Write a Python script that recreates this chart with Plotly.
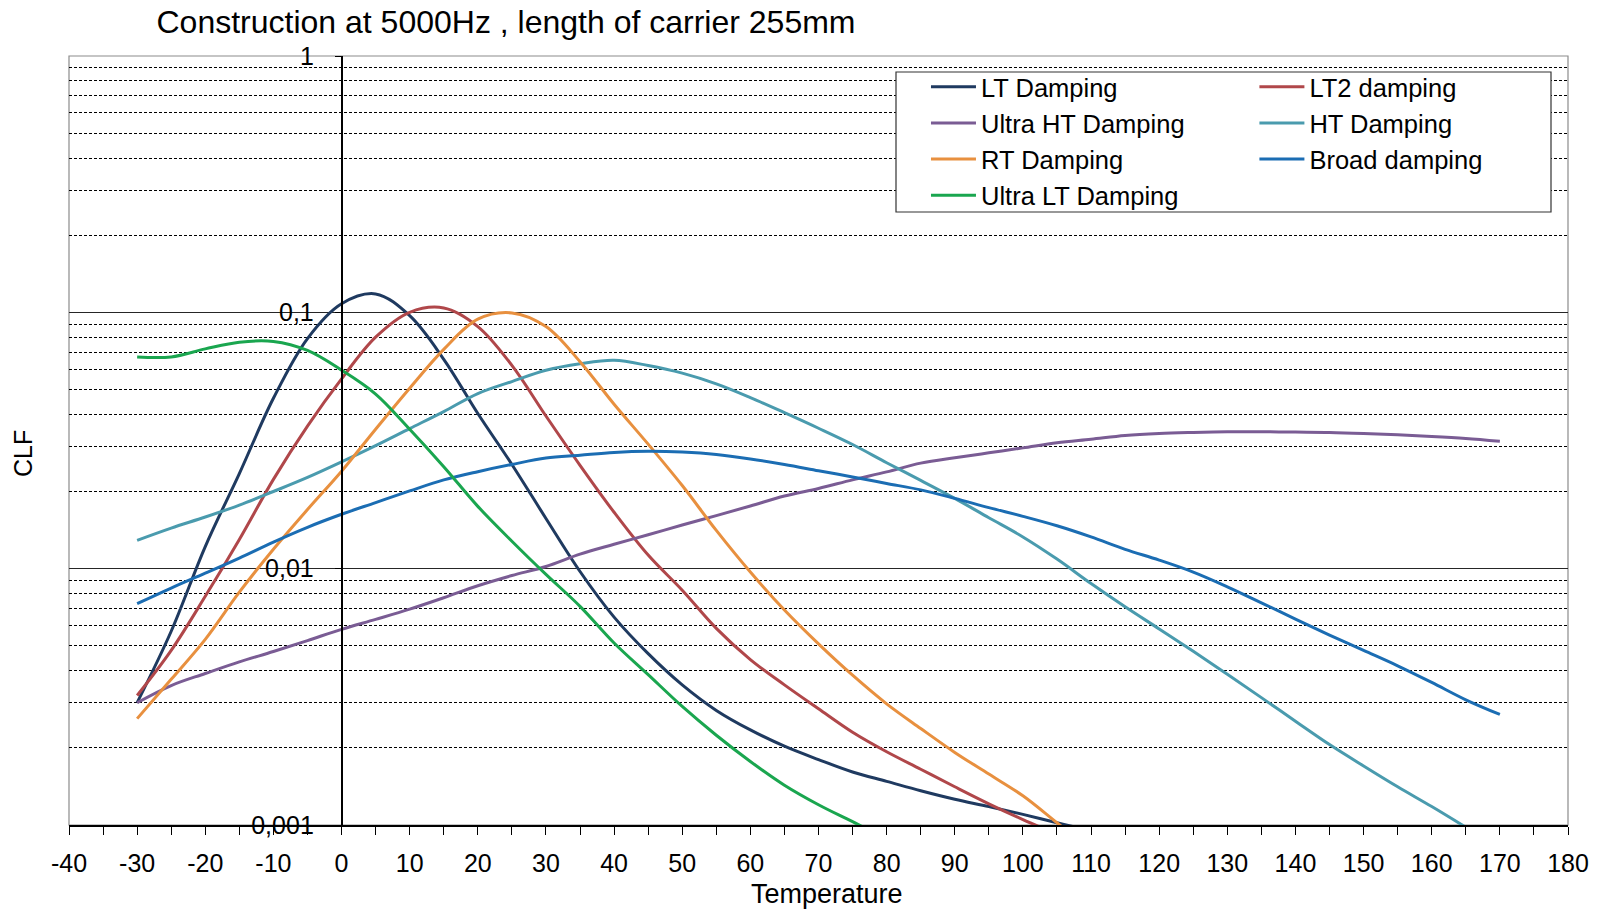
import plotly.graph_objects as go

# ---------------- data ----------------
temp_a = [-30, -25, -20, -15, -10, -5, 0, 5, 10, 15, 20, 25, 30, 35, 40, 45, 50, 55, 60,
          65, 70, 75, 80, 85, 90, 95, 100, 105, 110]
lt_damping = [0.0030, 0.0057, 0.0122, 0.0235, 0.0462, 0.079, 0.108, 0.118, 0.097, 0.0656,
              0.0403, 0.0255, 0.0157, 0.00975, 0.00647, 0.00466, 0.00352, 0.0028, 0.00235,
              0.00203, 0.0018, 0.00161, 0.00148, 0.00136, 0.00126, 0.00118, 0.0011, 0.00102,
              0.00095]

temp_b = [-30, -25, -20, -15, -10, -5, 0, 5, 10, 15, 20, 25, 30, 35, 40, 45, 50, 55, 60,
          65, 70, 75, 80, 85, 90, 95, 100, 105]
lt2_damping = [0.0032, 0.0048, 0.0078, 0.013, 0.0223, 0.036, 0.055, 0.080, 0.100, 0.104,
               0.088, 0.0621, 0.0394, 0.0253, 0.0166, 0.0113, 0.00824, 0.00585, 0.00442,
               0.00352, 0.00284, 0.0023, 0.00193, 0.00165, 0.00141, 0.00121, 0.00105, 0.00092]

temp_c = [-30, -25, -20, -15, -10, -5, 0, 5, 10, 15, 20, 25, 30, 35, 40, 45, 50, 55, 60,
          65, 70, 75, 80, 85, 90, 95, 100, 105, 110, 115, 120, 125, 130, 135, 140, 145, 150,
          155, 160, 165, 170]
ultra_ht_damping = [0.0030, 0.0035, 0.0039, 0.00433, 0.00475, 0.00524, 0.0058, 0.00634,
                    0.00695, 0.0077, 0.00858, 0.0094, 0.0102, 0.0114, 0.01245, 0.01356,
                    0.0148, 0.0161, 0.01756, 0.0192, 0.02055, 0.0222, 0.02385, 0.0258,
                    0.0271, 0.0283, 0.0296, 0.031, 0.032, 0.0331, 0.0337, 0.034, 0.0342,
                    0.0342, 0.0341, 0.034, 0.0337, 0.0333, 0.0328, 0.0322, 0.0314]

temp_d = [-30, -25, -20, -15, -10, -5, 0, 5, 10, 15, 20, 25, 30, 35, 40, 45, 50, 55, 60,
          65, 70, 75, 80, 85, 90, 95, 100, 105, 110, 115, 120, 125, 130, 135, 140, 145, 150,
          155, 160, 165]
ht_damping = [0.0129, 0.0144, 0.0159, 0.0177, 0.0200, 0.0227, 0.0261, 0.0302, 0.0352, 0.041,
              0.0482, 0.0537, 0.0594, 0.063, 0.065, 0.062, 0.0579, 0.0526, 0.0465, 0.0406,
              0.0353, 0.0305, 0.0259, 0.0221, 0.0188, 0.0158, 0.0133, 0.0109, 0.00875,
              0.0071, 0.00582, 0.00476, 0.00387, 0.00314, 0.00254, 0.00206, 0.0017,
              0.00141, 0.00118, 0.00098]

temp_e = [-30, -25, -20, -15, -10, -5, 0, 5, 10, 15, 20, 25, 30, 35, 40, 45, 50, 55, 60,
          65, 70, 75, 80, 85, 90, 95, 100, 105, 110]
rt_damping = [0.0026, 0.0037, 0.0053, 0.0081, 0.0119, 0.0170, 0.024, 0.0350, 0.0506, 0.0717,
              0.094, 0.0995, 0.088, 0.0642, 0.0438, 0.0306, 0.0211, 0.0141, 0.0097, 0.0069,
              0.00509, 0.00384, 0.00297, 0.00238, 0.00192, 0.00158, 0.0013, 0.00102, 0.0008]

temp_f = [-30, -25, -20, -15, -10, -5, 0, 5, 10, 15, 20, 25, 30, 35, 40, 45, 50, 55, 60,
          65, 70, 75, 80, 85, 90, 95, 100, 105, 110, 115, 120, 125, 130, 135, 140, 145, 150,
          155, 160, 165, 170]
broad_damping = [0.0073, 0.0084, 0.0096, 0.011, 0.0127, 0.0145, 0.0163, 0.0181, 0.0201,
                 0.0222, 0.0239, 0.0255, 0.027, 0.0277, 0.0284, 0.0287, 0.0285, 0.0279,
                 0.0268, 0.0255, 0.0241, 0.0228, 0.0215, 0.0203, 0.0188, 0.0173, 0.016,
                 0.0147, 0.0133, 0.0119, 0.0108, 0.0097, 0.0085, 0.00736, 0.00636, 0.00551,
                 0.0048, 0.00418, 0.0036, 0.00308, 0.0027]

temp_g = [-30, -25, -20, -15, -10, -5, 0, 5, 10, 15, 20, 25, 30, 35, 40, 45, 50, 55, 60,
          65, 70, 75, 80]
ultra_lt_damping = [0.067, 0.067, 0.072, 0.0765, 0.077, 0.071, 0.0595, 0.048, 0.0350, 0.0250,
                    0.0175, 0.0128, 0.0095, 0.00713, 0.00513, 0.00386, 0.0029, 0.00224,
                    0.00177, 0.00143, 0.0012, 0.00103, 0.00088]

x_tick_vals = list(range(-40, 181, 10))
x_tick_text = [str(v) for v in x_tick_vals]
y_tick_vals = [0.001, 0.01, 0.1, 1]
y_tick_text = ["0,001", "0,01", "0,1", "1"]
y_minor_vals = [m * 10 ** e for e in (-3, -2, -1) for m in range(2, 10)]

# ---------------- styling ----------------
FONT = "Arial, Liberation Sans, sans-serif"
series = [
    ("LT Damping", temp_a, lt_damping, "#1f3a60", "legend"),
    ("LT2 damping", temp_b, lt2_damping, "#b0474a", "legend2"),
    ("Ultra HT Damping", temp_c, ultra_ht_damping, "#7a5c94", "legend"),
    ("HT Damping", temp_d, ht_damping, "#4a9bae", "legend2"),
    ("RT Damping", temp_e, rt_damping, "#e8903f", "legend"),
    ("Broad damping", temp_f, broad_damping, "#1b6db3", "legend2"),
    ("Ultra LT Damping", temp_g, ultra_lt_damping, "#1aa64f", "legend"),
]

fig = go.Figure()
for name, xs, ys, color, leg in series:
    fig.add_trace(go.Scatter(
        x=xs, y=ys, name=name, mode="lines", legend=leg,
        line=dict(color=color, width=3, shape="spline", smoothing=1.0),
    ))

W, H = 1606, 910
ML, MR, MT, MB = 69, 38, 56, 85
PW, PH = W - ML - MR, H - MT - MB
LEG_X = 0.5717
LEG_Y = 0.990
LEG_FONT = 25.5

fig.update_layout(
    width=W, height=H,
    margin=dict(l=ML, r=MR, t=MT, b=MB, autoexpand=False),
    paper_bgcolor="white", plot_bgcolor="white",
    font=dict(family=FONT, size=25, color="black"),
    title=dict(text="Construction at 5000Hz , length of carrier 255mm",
               font=dict(family=FONT, size=32, color="black"),
               xref="container", x=506 / W, xanchor="center",
               yref="container", y=1 - 22 / H, yanchor="middle"),
    showlegend=True,
    legend=dict(x=LEG_X, y=LEG_Y, xanchor="left", yanchor="top",
                bgcolor="rgba(0,0,0,0)", borderwidth=0, itemwidth=45,
                font=dict(family=FONT, size=LEG_FONT, color="black"), traceorder="normal"),
    legend2=dict(x=LEG_X + 0.2191, y=LEG_Y, xanchor="left", yanchor="top",
                 bgcolor="rgba(0,0,0,0)", borderwidth=0, itemwidth=45,
                 font=dict(family=FONT, size=LEG_FONT, color="black"), traceorder="normal"),
    xaxis=dict(
        range=[-40, 180], tickmode="array", tickvals=x_tick_vals, ticktext=x_tick_text,
        showgrid=False, zeroline=False,
        showline=True, linecolor="black", linewidth=1.5,
        ticks="outside", ticklen=8, tickcolor="black", tickwidth=1,
        ticklabelstandoff=7,
        tickfont=dict(family=FONT, size=25, color="black"),
        minor=dict(dtick=5, tick0=0, ticks="outside", ticklen=8, tickcolor="black", showgrid=False),
    ),
    yaxis=dict(
        type="log", range=[-3, 0],
        anchor="free", position=40 / 220,
        tickmode="array", tickvals=y_tick_vals, ticktext=y_tick_text,
        showgrid=True, gridcolor="#262626", gridwidth=1,
        zeroline=False,
        showline=True, linecolor="black", linewidth=1.5,
        ticks="outside", ticklen=6, tickcolor="black",
        ticklabelstandoff=16,
        tickfont=dict(family=FONT, size=25, color="black"),
        minor=dict(tickmode="array", tickvals=y_minor_vals, showgrid=True,
                   gridcolor="black", griddash="3px,2px", gridwidth=1, ticks=""),
    ),
    shapes=[
        dict(type="rect", xref="paper", yref="paper", x0=0, y0=0, x1=1, y1=1,
             line=dict(color="#8c8c8c", width=1.2), fillcolor="rgba(0,0,0,0)", layer="below"),
        dict(type="rect", xref="paper", yref="paper",
             x0=(896 - ML) / PW, x1=(1551 - ML) / PW,
             y0=1 - (212 - MT) / PH, y1=1 - (72 - MT) / PH,
             line=dict(color="#333333", width=1.2), fillcolor="white", layer="above"),
    ],
    annotations=[
        dict(text="Temperature", xref="paper", yref="paper", x=(827 - ML) / PW, y=0,
             xanchor="center", yanchor="middle", yshift=-(894 - (H - MB)), showarrow=False,
             font=dict(family=FONT, size=27, color="black")),
        dict(text="CLF", xref="paper", yref="paper", x=(23 - ML) / PW,
             y=1 - (454 - MT) / PH, xanchor="center", yanchor="middle",
             textangle=-90, showarrow=False,
             font=dict(family=FONT, size=25, color="black")),
    ],
)

fig.write_html("out.html",
               config={"displayModeBar": False},
               post_script="document.body.style.margin='0px';document.body.style.overflow='hidden';")
